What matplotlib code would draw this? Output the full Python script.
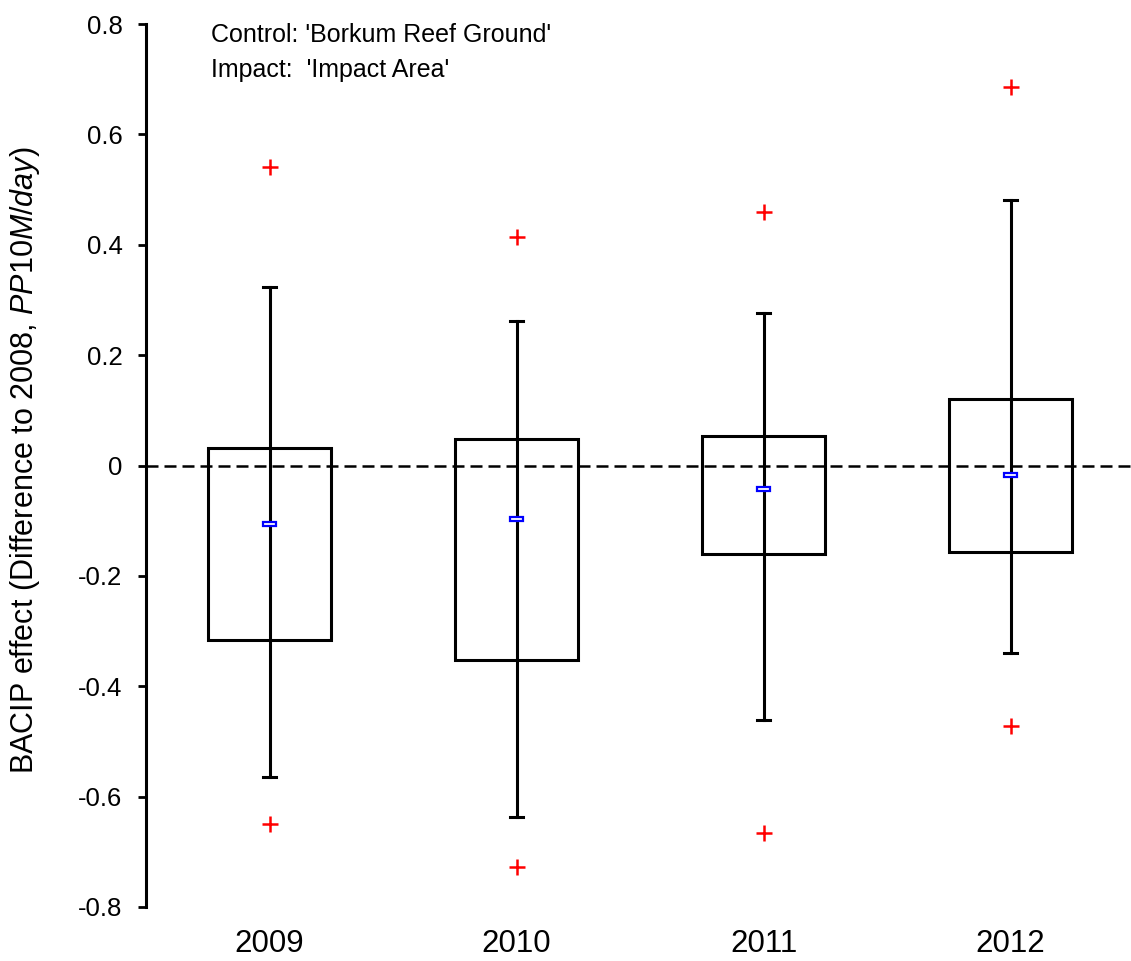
import matplotlib
matplotlib.use("Agg")
import matplotlib.pyplot as plt
from matplotlib import font_manager
from matplotlib.patches import Rectangle

years = ["2009", "2010", "2011", "2012"]
box_top = [0.032, 0.048, 0.053, 0.120]
box_bottom = [-0.316, -0.352, -0.160, -0.157]
whisker_top = [0.323, 0.262, 0.276, 0.481]
whisker_bottom = [-0.564, -0.637, -0.461, -0.340]
medians = [-0.106, -0.097, -0.043, -0.017]
outlier_top = [0.541, 0.414, 0.459, 0.686]
outlier_bottom = [-0.650, -0.727, -0.666, -0.472]
yticks = [-0.8, -0.6, -0.4, -0.2, 0, 0.2, 0.4, 0.6, 0.8]
ytick_labels = ["-0.8", "-0.6", "-0.4", "-0.2", "0", "0.2", "0.4", "0.6", "0.8"]

names = {f.name for f in font_manager.fontManager.ttflist}
main_font = "Liberation Sans" if "Liberation Sans" in names else "DejaVu Sans"
plt.rcParams["font.family"] = [main_font, "DejaVu Sans"]
plt.rcParams["mathtext.fontset"] = "custom"
plt.rcParams["mathtext.it"] = main_font + ":italic"
plt.rcParams["mathtext.rm"] = main_font

W, H = 1131, 961
fig = plt.figure(figsize=(W / 100, H / 100), dpi=100)
ax = fig.add_axes([146 / W, (H - 907) / H, 988 / W, (907 - 24) / H])

xs = list(range(len(years)))
bw = 0.5
cap = 0.05
for x, bt, bb, wt, wb, md, ot, ob in zip(xs, box_top, box_bottom, whisker_top,
                                         whisker_bottom, medians, outlier_top, outlier_bottom):
    ax.add_patch(Rectangle((x - bw / 2, bb), bw, bt - bb, fill=False,
                           edgecolor="black", linewidth=2.2, zorder=3))
    ax.plot([x, x], [wb, wt], color="black", linewidth=2.2, zorder=3)
    ax.plot([x - cap / 2, x + cap / 2], [wt, wt], color="black", linewidth=2.2, zorder=3)
    ax.plot([x - cap / 2, x + cap / 2], [wb, wb], color="black", linewidth=2.2, zorder=3)
    ax.add_patch(Rectangle((x - 0.026, md - 0.0035), 0.052, 0.007, facecolor="white",
                           edgecolor="blue", linewidth=1.6, zorder=4))
    ax.plot([x, x], [ot, ob], linestyle="none", marker="+", color="red",
            markersize=11, markeredgewidth=1.8, zorder=4)

ax.axhline(0, color="black", linestyle=(0, (4.8, 2.4)), linewidth=1.8, zorder=2)

ax.set_xlim(-0.5, 3.5)
ax.set_ylim(-0.8, 0.8)
ax.set_xticks(xs)
ax.set_xticklabels(years, fontsize=22.5)
ax.tick_params(axis="x", length=0, pad=16)
ax.set_yticks(yticks)
ax.set_yticklabels(ytick_labels, fontsize=18.5)
ax.tick_params(axis="y", direction="out", length=6, width=2, pad=11)
for s in ["top", "right", "bottom"]:
    ax.spines[s].set_visible(False)
ax.spines["left"].set_linewidth(2.2)

ax.set_ylabel("BACIP effect (Difference to 2008, $\\it{PP10M/day}$)", fontsize=22)
ax.yaxis.set_label_coords((42 - 146) / 988, (907 - 460) / 883)

fig.text(211 / W, 1 - 42 / H, "Control: 'Borkum Reef Ground'", fontsize=18, va="baseline")
fig.text(211 / W, 1 - 77 / H, "Impact:  'Impact Area'", fontsize=18, va="baseline")

fig.savefig("out.png", dpi=100)
